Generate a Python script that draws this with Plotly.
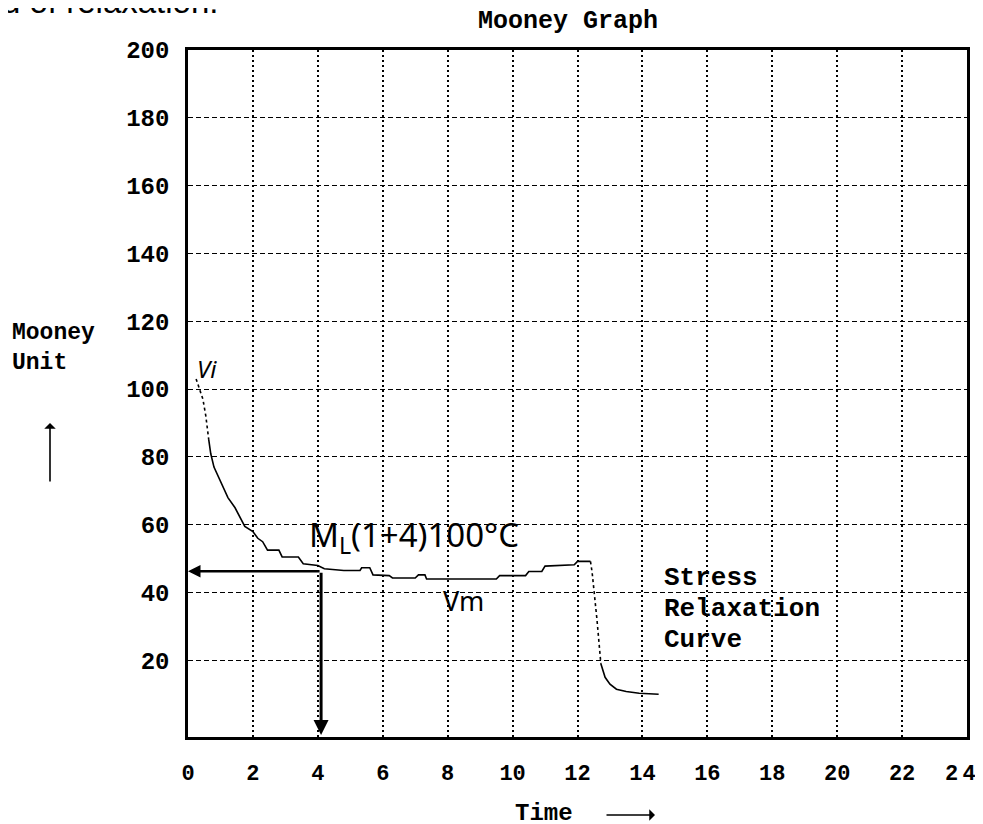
import plotly.graph_objects as go

# ---------------- data ----------------
# initial rapid drop (drawn dotted)
t_start = [0.25, 0.35, 0.46, 0.55, 0.64]
v_start = [103, 100, 97, 92, 85]
# main Mooney curve (solid, stepped)
t_main = [0.64, 0.7, 0.8, 1.0, 1.23, 1.45, 1.6, 1.75, 2.0, 2.15, 2.3, 2.45, 2.8, 2.9, 3.4,
          3.55, 4.0, 4.2, 4.8, 5.3, 5.35, 5.6, 5.7, 6.2, 6.3, 7.0, 7.1, 7.3, 7.35, 9.5,
          9.6, 10.4, 10.5, 10.9, 11.0, 11.9, 12.0, 12.4]
v_main = [85, 81, 77, 73, 68, 65, 62, 59.5, 58, 56, 55, 52.5, 52.5, 50.5, 50.5,
          48.5, 48, 47, 46.5, 46.5, 47.3, 47.3, 45.2, 45, 44.3, 44.3, 45.2, 45.2, 44, 44,
          45, 45, 46.2, 46.2, 47.8, 48.2, 49.2, 49.2]
# rotor stop – drop (drawn dotted)
t_drop = [12.4, 12.45, 12.6, 12.72]
v_drop = [49.2, 46, 32, 19]
# stress relaxation curve (solid)
t_relax = [12.72, 12.85, 13.0, 13.2, 13.5, 13.9, 14.5]
v_relax = [19, 15, 13, 11.5, 10.8, 10.3, 10]

# ML(1+4) reading
ml_time = 4.1
ml_value = 46.3
axis_bottom = -2

# tick labels
x_tickvals = [0, 2, 4, 6, 8, 10, 12, 14, 16, 18, 20, 22, 24]
x_ticktext = ["0", "2", "4", "6", "8", "10", "12", "14", "16", "18", "20", "22",
              "2\u20094\u2007"]
y_tickvals = [20, 40, 60, 80, 100, 120, 140, 160, 180, 200]
y_ticktext = [str(v) for v in y_tickvals]

# ---------------- layout geometry ----------------
OFF = 8                      # body margin of the page
W, H = 983, 824
PLOT_L, PLOT_R, PLOT_T, PLOT_B = 188, 967, 50, 737  # target screen pixels


def to_fig(p):
    return p - OFF


ML_ = to_fig(PLOT_L)
MT_ = to_fig(PLOT_T)
MR_ = W - to_fig(PLOT_R)
MB_ = H - to_fig(PLOT_B)
PW = W - ML_ - MR_
PH = H - MT_ - MB_


def fx(xp):
    return (to_fig(xp) - ML_) / PW


def fy(yp):
    return (H - MB_ - to_fig(yp)) / PH


MONO = "Liberation Mono, Courier New, monospace"
HAND = "Noto Sans, DejaVu Sans, sans-serif"

fig = go.Figure()
line_style = dict(color="black", width=1.6)
fig.add_trace(go.Scatter(x=t_start, y=v_start, mode="lines",
                         line=dict(color="black", width=1.6, dash="dot"), showlegend=False))
fig.add_trace(go.Scatter(x=t_main, y=v_main, mode="lines", line=line_style, showlegend=False))
fig.add_trace(go.Scatter(x=t_drop, y=v_drop, mode="lines",
                         line=dict(color="black", width=1.6, dash="dot"), showlegend=False))
fig.add_trace(go.Scatter(x=t_relax, y=v_relax, mode="lines", line=line_style, showlegend=False))

annotations = []
# ML arrows
annotations.append(dict(x=0, y=ml_value, ax=ml_time, ay=ml_value, xref="x", yref="y",
                        axref="x", ayref="y", showarrow=True, arrowhead=2, arrowsize=1,
                        arrowwidth=2.5, arrowcolor="black", text=""))
annotations.append(dict(x=ml_time, y=axis_bottom, ax=ml_time, ay=ml_value, xref="x", yref="y",
                        axref="x", ayref="y", showarrow=True, arrowhead=2, arrowsize=1,
                        arrowwidth=3, arrowcolor="black", text=""))
# handwritten labels
annotations.append(dict(x=0.6, y=106, xref="x", yref="y", text="<i>Vi</i>", showarrow=False,
                        xanchor="center", yanchor="middle",
                        font=dict(family=HAND, size=24, color="black")))
annotations.append(dict(x=6.95, y=56.4, xref="x", yref="y",
                        text="M<sub>L</sub>(1+4)100°C", showarrow=False,
                        xanchor="center", yanchor="middle",
                        font=dict(family=HAND, size=33, color="black")))
annotations.append(dict(x=8.5, y=37.8, xref="x", yref="y", text="Vm", showarrow=False,
                        xanchor="center", yanchor="middle",
                        font=dict(family=HAND, size=27, color="black")))
# stress relaxation text (one annotation per line)
for line_text, yp in [("Stress", 578), ("Relaxation", 609), ("Curve", 640)]:
    annotations.append(dict(x=fx(662), y=fy(yp), xref="paper", yref="paper",
                            xanchor="left", yanchor="middle", showarrow=False,
                            text="<b>" + line_text + "</b>",
                            font=dict(family=MONO, size=26, color="black")))
# title
annotations.append(dict(x=fx(568), y=fy(22), xref="paper", yref="paper", showarrow=False,
                        xanchor="center", yanchor="middle",
                        text="<b>Mooney Graph</b>", font=dict(family=MONO, size=25, color="black")))
# y axis label
annotations.append(dict(x=fx(10), y=fy(348), xref="paper", yref="paper", xanchor="left",
                        yanchor="middle", align="left", showarrow=False,
                        text="<b>Mooney<br>Unit</b>",
                        font=dict(family=MONO, size=23, color="black")))
annotations.append(dict(x=fx(50), y=fy(423), xref="paper", yref="paper", ax=0, ay=60,
                        showarrow=True, arrowhead=1, arrowsize=1.2, arrowwidth=1.6,
                        arrowcolor="black", text=""))
# x axis label
annotations.append(dict(x=fx(544), y=fy(813), xref="paper", yref="paper", showarrow=False,
                        xanchor="center", yanchor="middle",
                        text="<b>Time</b>", font=dict(family=MONO, size=24, color="black")))
annotations.append(dict(x=fx(655), y=fy(815), xref="paper", yref="paper", ax=-50, ay=0,
                        showarrow=True, arrowhead=1, arrowsize=1.2, arrowwidth=1.6,
                        arrowcolor="black", text=""))
# fragment of surrounding text at top-left (mostly cut off by the page edge)
annotations.append(dict(x=fx(0), y=fy(22), xref="paper", yref="paper", xanchor="left",
                        yanchor="bottom", showarrow=False, text="d of relaxation.",
                        font=dict(family="Liberation Sans, Arial, sans-serif", size=33,
                                  color="black")))

fig.update_layout(
    width=W, height=H,
    margin=dict(l=ML_, r=MR_, t=MT_, b=MB_, autoexpand=False),
    paper_bgcolor="white", plot_bgcolor="white",
    showlegend=False,
    annotations=annotations,
)
fig.update_xaxes(range=[0, 24], tickvals=x_tickvals, ticktext=x_ticktext,
                 showgrid=True, gridcolor="black", gridwidth=1.5, griddash="2px,3px",
                 showline=True, linecolor="black", linewidth=2.5, mirror=True,
                 zeroline=False, ticks="", ticklabelstandoff=14, ticklabeloverflow="allow",
                 automargin=False,
                 tickfont=dict(family=MONO, size=22, color="black", weight="bold"))
fig.update_yaxes(range=[-2.6, 200], tickvals=y_tickvals, ticktext=y_ticktext,
                 showgrid=True, gridcolor="black", gridwidth=1.4, griddash="5px,3px",
                 showline=True, linecolor="black", linewidth=2.5, mirror=True,
                 zeroline=False, ticks="", ticklabelstandoff=11, automargin=False,
                 tickfont=dict(family=MONO, size=22 + 2, color="black", weight="bold"))

fig.write_html("out.html")
